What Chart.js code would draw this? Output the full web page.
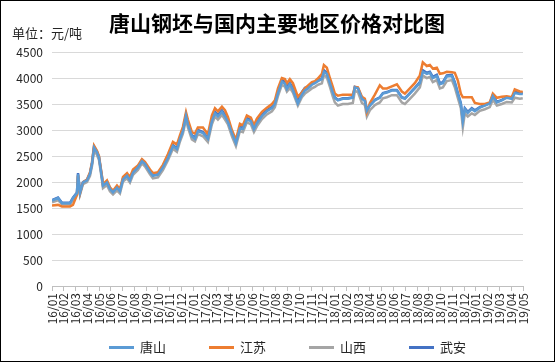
<!DOCTYPE html>
<html>
<head>
<meta charset="utf-8">
<script src="https://cdn.jsdelivr.net/npm/chart.js@4.4.1/dist/chart.umd.min.js"></script>
<style>
  html, body { margin: 0; padding: 0; background: #fff; }
  #wrap { position: relative; width: 555px; height: 362px; }
  #legenda {
    position: absolute; left: 52px; width: 471px; top: 339px;
    display: flex; justify-content: center; gap: 43px;
    font-family: "Noto Sans CJK SC", "Noto Sans", sans-serif; font-size: 13px; color: #262626;
  }
  .item { display: flex; align-items: center; line-height: 16px; }
  .item span.linha { display: inline-block; width: 25px; height: 3px; margin-right: 6px; }
</style>
</head>
<body>
<div id="wrap">
  <canvas id="grafico" width="555" height="362"></canvas>
  <div id="legenda"></div>
</div>
<script>
// rótulos do eixo x (um por mês)
const rotulosMes = [
  "16/01","16/02","16/03","16/04","16/05","16/06","16/07","16/08","16/09","16/10","16/11","16/12",
  "17/01","17/02","17/03","17/04","17/05","17/06","17/07","17/08","17/09","17/10","17/11","17/12",
  "18/01","18/02","18/03","18/04","18/05","18/06","18/07","18/08","18/09","18/10","18/11","18/12",
  "19/01","19/02","19/03","19/04","19/05"
];
const ticksY = [0, 500, 1000, 1500, 2000, 2500, 3000, 3500, 4000, 4500];

// posição no tempo, em meses desde 16/01
const meses = [
  0, 0.51, 0.85, 1.53, 1.78, 2.12, 2.21, 2.38, 2.63, 2.97,
  3.23, 3.40, 3.57, 3.82, 3.99, 4.24, 4.33, 4.67, 4.92, 5.18,
  5.52, 5.77, 6.03, 6.37, 6.62, 6.88, 7.30, 7.64, 7.89, 8.32,
  8.57, 9.00, 9.42, 9.85, 10.27, 10.61, 10.87, 11.12, 11.38, 11.54,
  11.88, 12.14, 12.39, 12.82, 13.24, 13.58, 13.84, 14.09, 14.43, 14.69,
  14.94, 15.28, 15.62, 15.96, 16.21, 16.55, 16.89, 17.15, 17.40, 17.83,
  18.25, 18.68, 18.93, 19.19, 19.52, 19.78, 19.95, 20.20, 20.46, 20.88,
  21.22, 21.48, 21.73, 22.07, 22.33, 22.58, 22.92, 23.09, 23.34, 23.60,
  23.85, 24.02, 24.28, 24.70, 25.13, 25.55, 25.72, 25.98, 26.32, 26.57,
  26.74, 27.00, 27.42, 27.84, 28.10, 28.44, 28.86, 29.29, 29.71, 29.97,
  30.39, 30.81, 31.24, 31.49, 31.83, 32.09, 32.34, 32.68, 32.94, 33.19,
  33.53, 33.96, 34.21, 34.47, 34.72, 34.89, 35.06, 35.31, 35.65, 35.91,
  36.33, 36.76, 37.18, 37.44, 37.78, 38.20, 38.62, 39.05, 39.30, 39.73,
  39.98
];

// 唐山
const tangshan = [
  1640,1690,1590,1590,1690,1790,2150,1790,1990,2030,
  2160,2350,2660,2570,2470,2080,1930,1990,1870,1800,
  1890,1820,2050,2120,2030,2180,2280,2400,2350,2190,
  2120,2140,2280,2460,2690,2630,2830,2980,3270,3110,
  2880,2830,2980,2940,2830,3170,3320,3260,3350,3260,
  3160,2940,2750,3030,3020,3200,3170,3020,3130,3270,
  3360,3420,3500,3710,3930,3890,3790,3880,3770,3510,
  3680,3760,3800,3870,3900,3940,3980,4120,4080,3900,
  3720,3620,3570,3600,3600,3620,3820,3800,3600,3560,
  3370,3470,3570,3620,3700,3720,3760,3760,3620,3600,
  3700,3800,3900,4120,4080,4100,4000,4040,3880,3900,
  4030,4040,3900,3690,3500,3170,3400,3330,3400,3360,
  3430,3470,3510,3650,3530,3570,3620,3600,3710,3690,
  3690
];
// 江苏
const jiangsu = [
  1550,1560,1530,1530,1560,1750,2130,1780,1990,2050,
  2190,2380,2700,2600,2500,2120,1960,2030,1900,1830,
  1930,1860,2100,2170,2090,2240,2320,2440,2390,2240,
  2170,2190,2330,2540,2770,2720,2900,3060,3340,3200,
  2960,2930,3050,3050,2920,3280,3420,3360,3450,3380,
  3250,3000,2810,3120,3090,3280,3240,3090,3220,3350,
  3430,3500,3570,3800,4000,3980,3900,3980,3900,3640,
  3720,3800,3850,3920,3940,3990,4080,4250,4200,4000,
  3830,3700,3660,3680,3680,3680,3830,3820,3640,3600,
  3350,3520,3680,3860,3800,3800,3840,3880,3740,3700,
  3800,3900,4050,4300,4230,4250,4180,4200,4080,4090,
  4120,4110,4100,3950,3700,3630,3630,3630,3630,3520,
  3500,3500,3530,3700,3620,3640,3650,3630,3780,3740,
  3730
];
// 山西
const shanxi = [
  1610,1650,1570,1570,1650,1760,2120,1760,1960,2000,
  2120,2310,2620,2520,2420,2040,1880,1940,1820,1760,
  1840,1780,2010,2070,1990,2140,2230,2360,2300,2150,
  2070,2090,2230,2420,2640,2580,2780,2930,3210,3050,
  2820,2780,2920,2880,2770,3110,3260,3200,3290,3200,
  3110,2880,2690,2980,2960,3150,3110,2960,3070,3210,
  3300,3360,3440,3650,3870,3830,3740,3810,3720,3470,
  3630,3700,3740,3800,3830,3870,3900,4060,4010,3830,
  3640,3530,3470,3500,3500,3520,3750,3730,3520,3480,
  3260,3380,3480,3530,3610,3630,3670,3670,3530,3500,
  3600,3700,3820,4050,4000,4020,3920,3960,3800,3820,
  3940,3960,3820,3610,3420,3050,3320,3260,3320,3290,
  3370,3400,3440,3580,3470,3500,3540,3530,3620,3600,
  3610
];
// 武安
const wuan = [
  1650,1700,1600,1600,1700,1800,2170,1800,2000,2040,
  2170,2360,2680,2580,2480,2100,1940,2000,1880,1810,
  1900,1830,2070,2130,2040,2200,2290,2420,2360,2200,
  2130,2150,2290,2480,2710,2650,2850,3000,3290,3130,
  2900,2850,3000,2960,2850,3190,3350,3290,3380,3290,
  3190,2960,2770,3060,3040,3230,3190,3040,3150,3290,
  3380,3440,3520,3730,3960,3920,3830,3900,3810,3580,
  3730,3810,3830,3900,3920,3960,4000,4150,4100,3920,
  3730,3630,3580,3610,3610,3630,3830,3810,3610,3580,
  3380,3480,3580,3630,3710,3730,3770,3770,3630,3610,
  3710,3810,3920,4150,4100,4120,4020,4060,3900,3920,
  4050,4060,3920,3710,3520,3170,3420,3350,3420,3380,
  3440,3480,3520,3670,3540,3580,3630,3610,3730,3710,
  3710
];

const series = [
  { nome: "唐山", valores: tangshan, cor: "#5B9BD5" },
  { nome: "江苏", valores: jiangsu, cor: "#ED7D31" },
  { nome: "山西", valores: shanxi, cor: "#A5A5A5" },
  { nome: "武安", valores: wuan, cor: "#4472C4" }
];

const FONTE = '"Noto Sans CJK SC", "Noto Sans", sans-serif';

// título e unidade
const cabecalho = {
  id: "cabecalho",
  afterDraw(chart) {
    const ctx = chart.ctx;
    ctx.save();
    ctx.fillStyle = "#000";
    ctx.font = "bold 21px " + FONTE;
    ctx.textAlign = "center";
    ctx.textBaseline = "middle";
    ctx.fillText("唐山钢坯与国内主要地区价格对比图", 277, 23);
    ctx.font = "13px " + FONTE;
    ctx.textAlign = "left";
    ctx.fillStyle = "#262626";
    ctx.fillText("单位：元/吨", 12, 33);
    ctx.strokeStyle = "#000";
    ctx.lineWidth = 1;
    ctx.strokeRect(0.5, 0.5, 554, 361);
    ctx.restore();
  }
};

const ctx = document.getElementById("grafico").getContext("2d");
const grafico = new Chart(ctx, {
  type: "line",
  data: {
    datasets: series.map(s => ({
      label: s.nome,
      data: meses.map((m, i) => ({ x: m, y: s.valores[i] })),
      borderColor: s.cor,
      backgroundColor: s.cor,
      borderWidth: 2.5,
      pointRadius: 0,
      tension: 0
    }))
  },
  options: {
    responsive: false,
    animation: false,
    layout: { padding: { top: 52, right: 32, left: 0, bottom: 0 } },
    plugins: { legend: { display: false }, tooltip: { enabled: false } },
    scales: {
      x: {
        type: "linear",
        min: 0,
        max: rotulosMes.length - 1,
        afterFit: s => { s.height = 76; },
        afterBuildTicks: s => { s.ticks = rotulosMes.map((_, i) => ({ value: i })); },
        ticks: {
          autoSkip: false,
          maxRotation: 90,
          minRotation: 90,
          padding: 2,
          color: "#262626",
          font: { family: FONTE, size: 12 },
          callback: v => rotulosMes[v]
        },
        grid: { drawOnChartArea: false, drawTicks: true, tickLength: 5, color: "#BFBFBF" },
        border: { display: true, color: "#BFBFBF" }
      },
      y: {
        min: 0,
        max: 4500,
        afterFit: s => { s.width = 52; },
        afterBuildTicks: s => { s.ticks = ticksY.map(v => ({ value: v })); },
        ticks: {
          padding: 9,
          color: "#262626",
          font: { family: FONTE, size: 12 },
          callback: v => String(v)
        },
        grid: { color: "#D9D9D9", drawTicks: false },
        border: { display: false }
      }
    }
  },
  plugins: [cabecalho]
});

// legenda em HTML montada a partir dos itens do próprio gráfico
const legendaDiv = document.getElementById("legenda");
grafico.options.plugins.legend.labels.generateLabels(grafico).forEach(item => {
  const el = document.createElement("div");
  el.className = "item";
  el.innerHTML = `<span class="linha" style="background:${item.strokeStyle}"></span>${item.text}`;
  legendaDiv.appendChild(el);
});
</script>
</body>
</html>
